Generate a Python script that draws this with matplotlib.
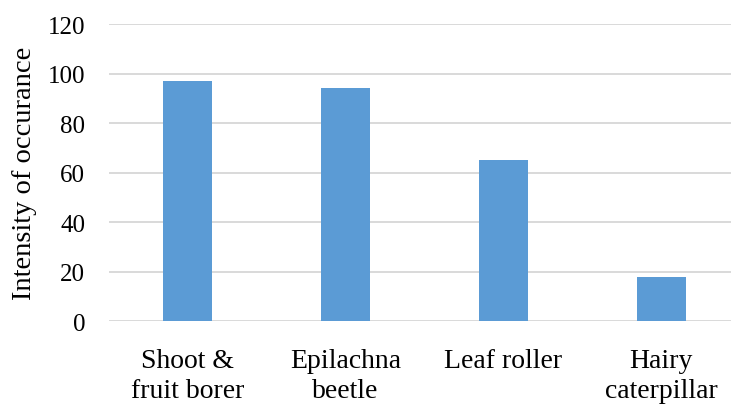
import matplotlib.pyplot as plt
import numpy as np

categories = ["Shoot &\nfruit borer", "Epilachna\nbeetle", "Leaf roller", "Hairy\ncaterpillar"]
intensity = [97, 94, 65, 18]
yticks = [0, 20, 40, 60, 80, 100, 120]

plt.rcParams["font.family"] = ["Liberation Serif", "DejaVu Serif"]

fig = plt.figure(figsize=(7.31, 4.10), dpi=100)
ax = fig.add_axes([0.149, 0.214, 0.851, 0.725])

x = np.arange(len(categories))
ax.bar(x, intensity, width=0.31, color="#5B9BD5", zorder=3)

ax.set_ylim(0, 120)
ax.set_yticks(yticks)
ax.set_xlim(-0.5, 3.443)
ax.set_xticks(x)
ax.set_xticklabels(categories, fontsize=20, linespacing=1.3)
ax.tick_params(axis="y", labelsize=18, length=0, pad=17)
ax.tick_params(axis="x", length=0, pad=19)
ax.yaxis.grid(True, color="#D9D9D9", linewidth=1.4, zorder=0)
for s in ax.spines.values():
    s.set_visible(False)

ax.set_ylabel("Intensity of occurance", fontsize=20.5, labelpad=8)

fig.savefig("out.png", dpi=100)
